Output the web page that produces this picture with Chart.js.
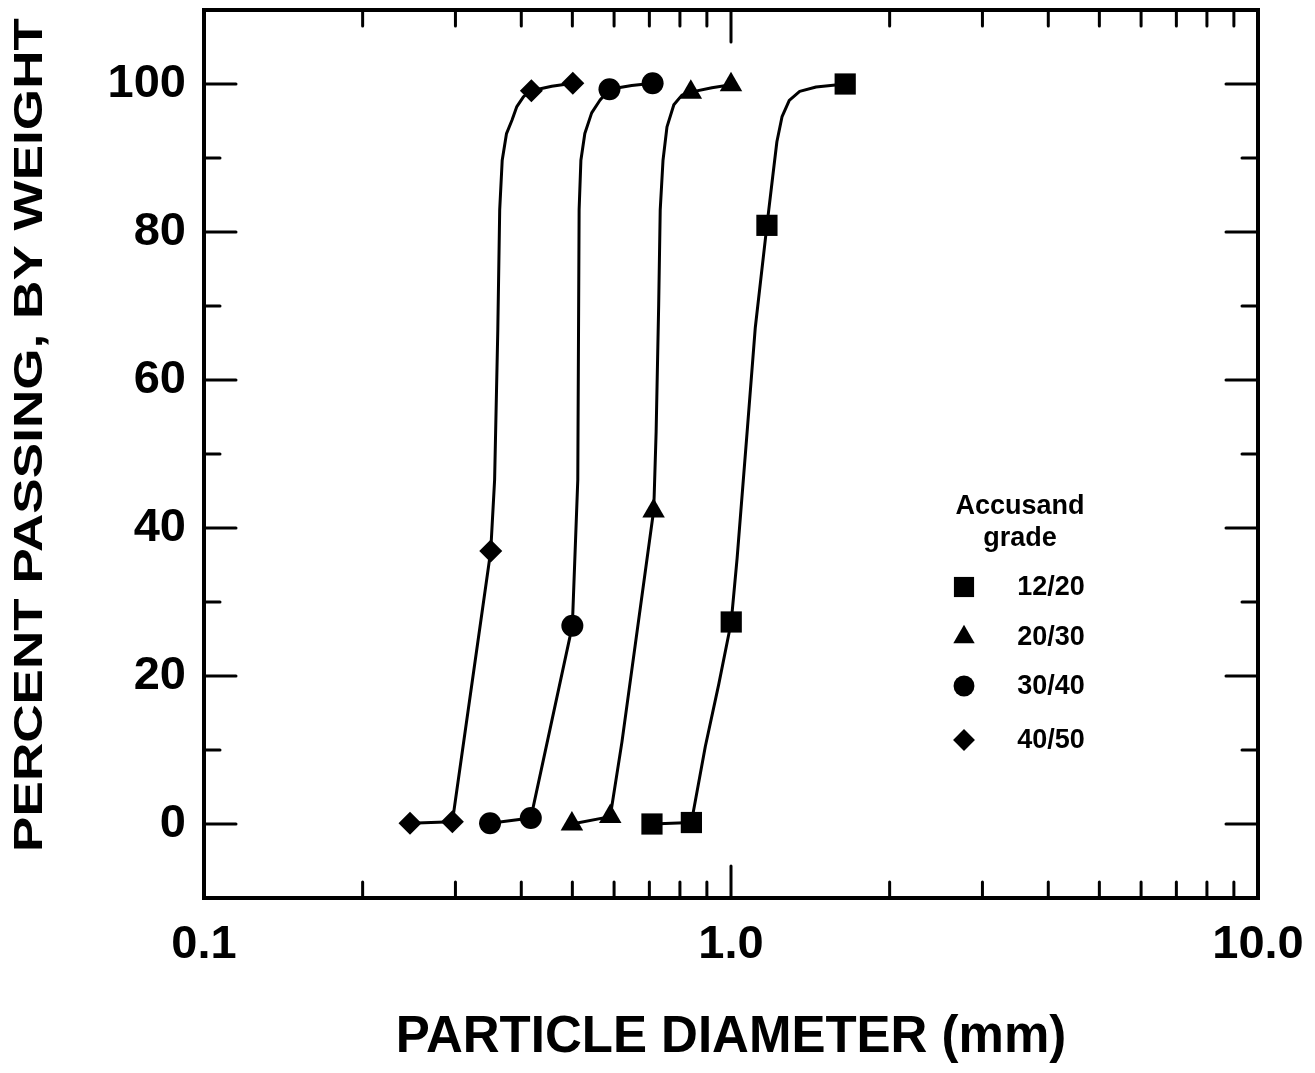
<!DOCTYPE html>
<html><head><meta charset="utf-8">
<script src="https://cdn.jsdelivr.net/npm/chart.js@4.4.1/dist/chart.umd.min.js"></script>
<style>html,body{margin:0;padding:0;background:#fff;}canvas{display:block;}</style>
</head><body>
<canvas id="c" width="1315" height="1073"></canvas>
<script>
// ---------- data ----------
const grades = ['12/20', '20/30', '30/40', '40/50'];
const legendTitle = ['Accusand', 'grade'];
const xAxisTitle = 'PARTICLE DIAMETER (mm)';
const yAxisTitle = 'PERCENT PASSING, BY WEIGHT';

const xTickValues = [0.1, 1, 10];
const xTickLabels = ['0.1', '1.0', '10.0'];
const xMinorTicks = [0.2, 0.3, 0.4, 0.5, 0.6, 0.7, 0.8, 0.9, 2, 3, 4, 5, 6, 7, 8, 9];
const yTickValues = [0, 20, 40, 60, 80, 100];
const yTickLabels = ['0', '20', '40', '60', '80', '100'];
const yMinorTicks = [10, 30, 50, 70, 90];

// measured points (markers)
const m1220X = [0.708, 0.841, 1.001, 1.170, 1.647];
const m1220Y = [0.0, 0.2, 27.3, 80.9, 100.0];
const m2030X = [0.499, 0.590, 0.713, 0.839, 1.000];
const m2030Y = [0.0, 1.0, 42.3, 98.9, 99.9];
const m3040X = [0.349, 0.417, 0.500, 0.588, 0.710];
const m3040Y = [0.1, 0.8, 26.8, 99.3, 100.1];
const m4050X = [0.246, 0.296, 0.350, 0.418, 0.501];
const m4050Y = [0.1, 0.3, 36.9, 99.1, 100.1];

// fitted curves
const c1220X = [0.708, 0.841, 0.894, 0.948, 1.001, 1.027, 1.073, 1.112, 1.170, 1.200, 1.222, 1.250, 1.290, 1.350, 1.450, 1.647];
const c1220Y = [0.0, 0.2, 10.5, 18.9, 27.3, 35.9, 53.0, 67.1, 80.9, 87.5, 92.2, 95.6, 97.8, 99.0, 99.6, 100.0];
const c2030X = [0.499, 0.590, 0.621, 0.713, 0.715, 0.721, 0.729, 0.734, 0.743, 0.756, 0.779, 0.807, 0.839, 0.920, 1.000];
const c2030Y = [0.0, 1.0, 11.1, 42.3, 44.5, 53.0, 70.0, 83.0, 89.7, 94.2, 97.2, 98.5, 98.9, 99.5, 99.9];
const c3040X = [0.349, 0.417, 0.500, 0.512, 0.515, 0.519, 0.528, 0.544, 0.564, 0.588, 0.648, 0.710];
const c3040Y = [0.1, 0.8, 26.8, 46.5, 83.0, 89.7, 93.3, 96.1, 97.8, 99.3, 99.8, 100.1];
const c4050X = [0.246, 0.296, 0.350, 0.356, 0.361, 0.364, 0.368, 0.375, 0.384, 0.392, 0.404, 0.418, 0.457, 0.501];
const c4050Y = [0.1, 0.3, 36.9, 46.5, 66.8, 83.0, 89.7, 93.3, 95.1, 96.9, 98.3, 99.1, 99.7, 100.1];

// ---------- styles ----------
const FONT = "'Liberation Sans', Arial, Helvetica, sans-serif";
const pointStyles = ['rect', 'triangle', 'circle', 'rectRot'];
const pointRadii = [15, 13, 11, 11.5];

const zip = (xs, ys) => xs.map((x, i) => ({ x: x, y: ys[i] }));
const markerSets = [[m1220X, m1220Y], [m2030X, m2030Y], [m3040X, m3040Y], [m4050X, m4050Y]];
const curveSets = [[c1220X, c1220Y], [c2030X, c2030Y], [c3040X, c3040Y], [c4050X, c4050Y]];

const datasets = [];
markerSets.forEach((s, i) => datasets.push({
  label: grades[i], data: zip(s[0], s[1]), showLine: false, order: 0,
  pointStyle: pointStyles[i], pointRadius: pointRadii[i],
  backgroundColor: '#000', borderColor: '#000', pointBorderWidth: 0
}));
curveSets.forEach((s, i) => datasets.push({
  label: grades[i] + ' fit', data: zip(s[0], s[1]), showLine: true, order: 1,
  pointRadius: 0, borderColor: '#000', borderWidth: 3, tension: 0, fill: false,
  borderJoinStyle: 'round'
}));

function drawMarker(ctx, style, r, x, y) {
  if (Chart.helpers && Chart.helpers.drawPoint) {
    Chart.helpers.drawPoint(ctx, { pointStyle: style, radius: r, borderWidth: 0, rotation: 0 }, x, y);
  }
}

const decorPlugin = {
  id: 'decor',
  afterDraw(chart) {
    const ctx = chart.ctx, a = chart.chartArea, xs = chart.scales.x, ys = chart.scales.y;
    ctx.save();
    ctx.strokeStyle = '#000'; ctx.fillStyle = '#000';
    ctx.lineCap = 'round';
    ctx.lineWidth = 3;
    const seg = (x1, y1, x2, y2) => { ctx.beginPath(); ctx.moveTo(x1, y1); ctx.lineTo(x2, y2); ctx.stroke(); };
    yTickValues.forEach(v => { const p = ys.getPixelForValue(v); seg(a.left, p, a.left + 32, p); seg(a.right, p, a.right - 32, p); });
    yMinorTicks.forEach(v => { const p = ys.getPixelForValue(v); seg(a.left, p, a.left + 16, p); seg(a.right, p, a.right - 16, p); });
    xTickValues.forEach(v => { const p = xs.getPixelForValue(v); seg(p, a.bottom, p, a.bottom - 32); seg(p, a.top, p, a.top + 32); });
    xMinorTicks.forEach(v => { const p = xs.getPixelForValue(v); seg(p, a.bottom, p, a.bottom - 16); seg(p, a.top, p, a.top + 16); });
    ctx.lineCap = 'square';
    ctx.lineWidth = 4;
    ctx.strokeRect(a.left, a.top, a.right - a.left, a.bottom - a.top);

    // y-axis title (wide lettering)
    ctx.save();
    ctx.translate(31, 435);
    ctx.rotate(-Math.PI / 2);
    ctx.scale(1.295, 1);
    ctx.font = 'bold 41px ' + FONT;
    ctx.textAlign = 'center'; ctx.textBaseline = 'middle';
    ctx.fillText(yAxisTitle, 0, 0);
    ctx.restore();

    // legend
    ctx.font = 'bold 27px ' + FONT;
    ctx.textAlign = 'center'; ctx.textBaseline = 'middle';
    ctx.fillText(legendTitle[0], 1020, 507);
    ctx.fillText(legendTitle[1], 1020, 539);
    const ly = [587, 637, 686, 740];
    grades.forEach((g, i) => {
      drawMarker(ctx, pointStyles[i], pointRadii[i] * 0.95, 964, ly[i]);
      ctx.fillText(g, 1051, ly[i] + 1);
    });
    ctx.restore();
  }
};

Chart.defaults.font.family = FONT;
Chart.defaults.color = '#000';

new Chart(document.getElementById('c'), {
  type: 'scatter',
  data: { datasets: datasets },
  options: {
    responsive: false, animation: false, events: [],
    layout: { autoPadding: false, padding: { top: 10, right: 57, left: 0, bottom: 0 } },
    plugins: { legend: { display: false }, tooltip: { enabled: false } },
    scales: {
      x: {
        type: 'logarithmic', min: 0.1, max: 10,
        afterBuildTicks: s => { s.ticks = xTickValues.map(v => ({ value: v })); },
        afterFit: s => { s.height = 175; s.paddingLeft = 0; s.paddingRight = 0; },
        grid: { display: false }, border: { display: false },
        ticks: { callback: (v, i) => xTickLabels[i], font: { size: 47, weight: 'bold' }, color: '#000', padding: 11, maxRotation: 0, autoSkip: false },
        title: { display: true, text: xAxisTitle, font: { size: 51, weight: 'bold' }, color: '#000', padding: { top: 0, bottom: 4 } }
      },
      y: {
        min: -10, max: 110,
        afterBuildTicks: s => { s.ticks = yTickValues.map(v => ({ value: v })); },
        afterFit: s => { s.width = 204; s.paddingTop = 0; s.paddingBottom = 0; },
        grid: { display: false }, border: { display: false },
        ticks: { callback: (v, i) => yTickLabels[i], font: { size: 47, weight: 'bold' }, color: '#000', padding: 10, autoSkip: false }
      }
    }
  },
  plugins: [decorPlugin]
});
</script>
</body></html>
